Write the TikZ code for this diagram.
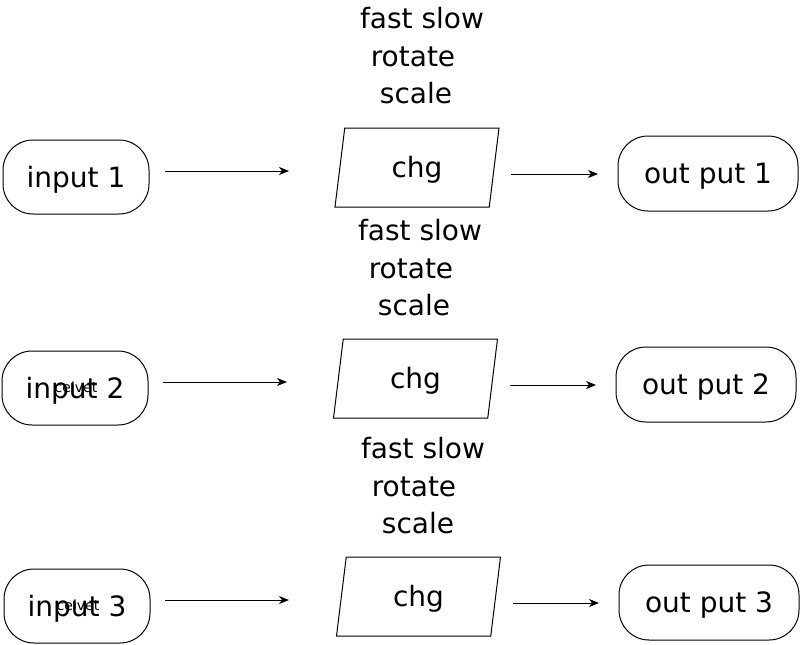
\documentclass[tikz,border=0pt]{standalone}
\usepackage{fontspec}
\setmainfont{DejaVu Sans}
\usetikzlibrary{shapes.geometric,arrows.meta}

\begin{document}
\begin{tikzpicture}[x=1pt,y=-1pt,
    terminal/.style ={draw, line width=1pt, rounded corners=30pt, minimum width=146pt, minimum height=74pt,
      inner sep=0pt, text height=25pt, text depth=5pt},
    outbox/.style ={terminal, minimum width=180pt, minimum height=75pt},
    change/.style ={draw, line width=1pt, trapezium, trapezium left angle=72, trapezium right angle=108,
      trapezium stretches body, minimum width=164pt, minimum height=79pt, inner sep=0pt,
      text height=25pt, text depth=5pt},
    opt/.style ={inner sep=0pt},
    tiny/.style ={inner sep=0pt, font=\fontsize{14}{16}\selectfont},
    flow/.style ={-{Stealth[length=10pt,width=8pt,inset=3pt]}, line width=1pt},
    every node/.style ={font=\fontsize{28}{34}\selectfont}]
   \useasboundingbox (0,0) rectangle (801,645);

   % first row
   \node[terminal] (in1)  at (76,177)  {input 1};
   \node[change] (chg1)  at (417,167.5)  {chg};
   \node[outbox] (out1)  at (708,173.5)  {out put 1};
   \node[opt] (fs1)  at (422,18)  {fast slow};
   \node[opt] (rot1)  at (413,57)  {rotate};
   \node[opt] (sc1)  at (416,93)  {scale};
   \coordinate (a1) at (165,171);
   \coordinate (b1) at (289,171);
   \coordinate (c1) at (511,174);
   \coordinate (d1) at (598,174);

   % second row
   \node[terminal] (in2)  at (75,388)  {input 2};
   \node[change] (chg2)  at (415.5,378.5)  {chg};
   \node[outbox] (out2)  at (706,384.5)  {out put 2};
   \node[opt] (fs2)  at (420,230)  {fast slow};
   \node[opt] (rot2)  at (411,269)  {rotate};
   \node[opt] (sc2)  at (414,305)  {scale};
   \node[tiny] (cv2) at (76,387) {ceivet};
   \coordinate (a2) at (163,382);
   \coordinate (b2) at (287,382);
   \coordinate (c2) at (510,385);
   \coordinate (d2) at (596,385);

   % third row
   \node[terminal] (in3)  at (77,606)  {input 3};
   \node[change] (chg3)  at (418.5,596.5)  {chg};
   \node[outbox] (out3)  at (709,602.5)  {out put 3};
   \node[opt] (fs3)  at (423,448)  {fast slow};
   \node[opt] (rot3)  at (414,487)  {rotate};
   \node[opt] (sc3)  at (418,523)  {scale};
   \node[tiny] (cv3) at (78,605) {ceivet};
   \coordinate (a3) at (165,600);
   \coordinate (b3) at (289,600);
   \coordinate (c3) at (513,603);
   \coordinate (d3) at (599,603);

   \draw[flow] (a1) to  (b1);
   \draw[flow] (c1) to  (d1);
   \draw[flow] (a2) to  (b2);
   \draw[flow] (c2) to  (d2);
   \draw[flow] (a3) to  (b3);
   \draw[flow] (c3) to  (d3);

 \end{tikzpicture}
\end{document}
